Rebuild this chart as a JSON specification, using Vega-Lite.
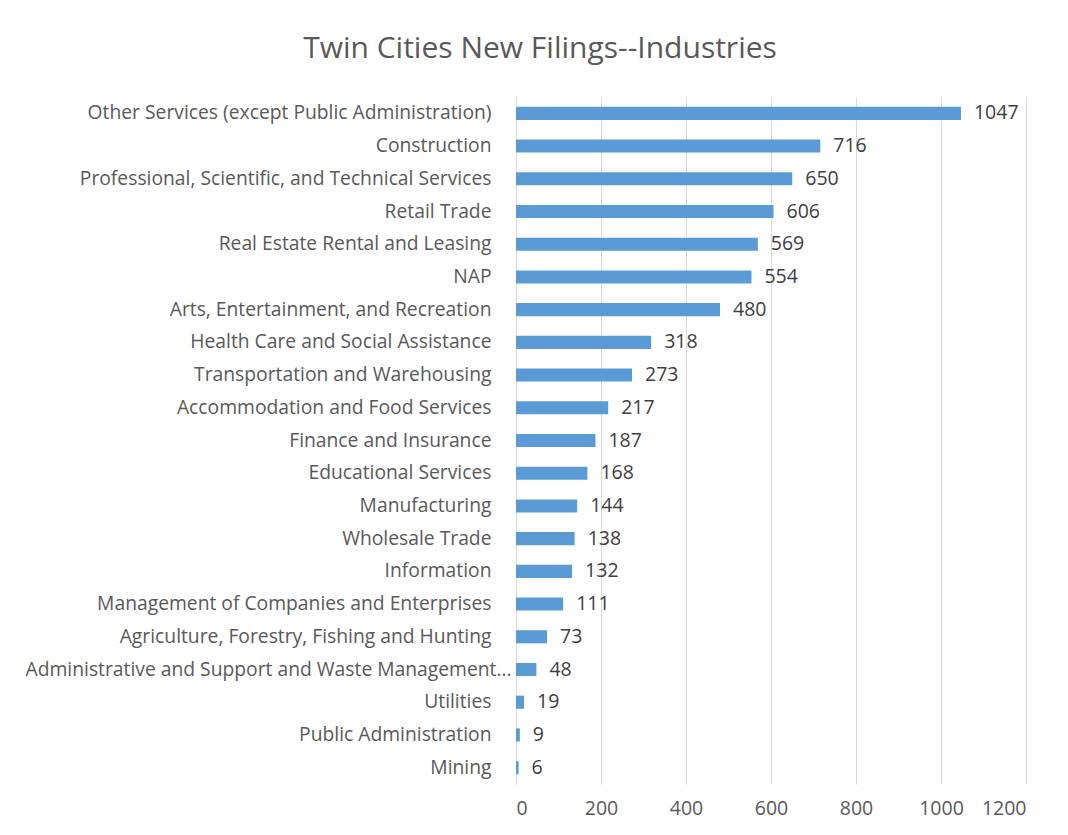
{
  "$schema": "https://vega.github.io/schema/vega-lite/v6.json",
  "autosize": {"type": "none"},
  "padding": {"left": 516, "top": 97, "right": 42, "bottom": 51},
  "width": 510,
  "height": 687,
  "background": "white",
  "title": {
    "text": "Twin Cities New Filings--Industries",
    "font": "Open Sans",
    "fontSize": 30,
    "fontWeight": "normal",
    "color": "#595959",
    "anchor": "middle",
    "dx": -231,
    "offset": 33
  },
  "data": {
    "values": [
      {"industry": "Other Services (except Public Administration)", "count": 1047},
      {"industry": "Construction", "count": 716},
      {"industry": "Professional, Scientific, and Technical Services", "count": 650},
      {"industry": "Retail Trade", "count": 606},
      {"industry": "Real Estate Rental and Leasing", "count": 569},
      {"industry": "NAP", "count": 554},
      {"industry": "Arts, Entertainment, and Recreation", "count": 480},
      {"industry": "Health Care and Social Assistance", "count": 318},
      {"industry": "Transportation and Warehousing", "count": 273},
      {"industry": "Accommodation and Food Services", "count": 217},
      {"industry": "Finance and Insurance", "count": 187},
      {"industry": "Educational Services", "count": 168},
      {"industry": "Manufacturing", "count": 144},
      {"industry": "Wholesale Trade", "count": 138},
      {"industry": "Information", "count": 132},
      {"industry": "Management of Companies and Enterprises", "count": 111},
      {"industry": "Agriculture, Forestry, Fishing and Hunting", "count": 73},
      {"industry": "Administrative and Support and Waste Management…", "count": 48},
      {"industry": "Utilities", "count": 19},
      {"industry": "Public Administration", "count": 9},
      {"industry": "Mining", "count": 6}
    ]
  },
  "encoding": {
    "y": {
      "field": "industry",
      "type": "nominal",
      "sort": null,
      "scale": {"paddingInner": 0.6, "paddingOuter": 0.3},
      "axis": {
        "title": null,
        "ticks": false,
        "domain": true,
        "domainColor": "#D9D9D9",
        "labelFont": "Open Sans",
        "labelFontSize": 19.3,
        "labelColor": "#595959",
        "labelPadding": {"condition": {"test": "indexof(datum.value, 'Waste') >= 0", "value": 5}, "value": 25},
        "labelLimit": 600
      }
    },
    "x": {
      "field": "count",
      "type": "quantitative",
      "scale": {"domain": [0, 1200], "nice": false},
      "axis": {
        "title": null,
        "values": [0, 200, 400, 600, 800, 1000, 1200],
        "format": "d",
        "domain": false,
        "ticks": false,
        "grid": true,
        "gridColor": "#D9D9D9",
        "labelFont": "Open Sans",
        "labelFontSize": 19.5,
        "labelColor": "#595959",
        "labelPadding": 15
      }
    }
  },
  "layer": [
    {"mark": {"type": "bar", "color": "#5B9BD5"}},
    {
      "mark": {"type": "text", "align": "left", "baseline": "middle", "dx": 13, "font": "Open Sans", "fontSize": 19.5, "color": "#404040"},
      "encoding": {"text": {"field": "count", "type": "quantitative"}}
    }
  ],
  "config": {"view": {"stroke": null}}
}
